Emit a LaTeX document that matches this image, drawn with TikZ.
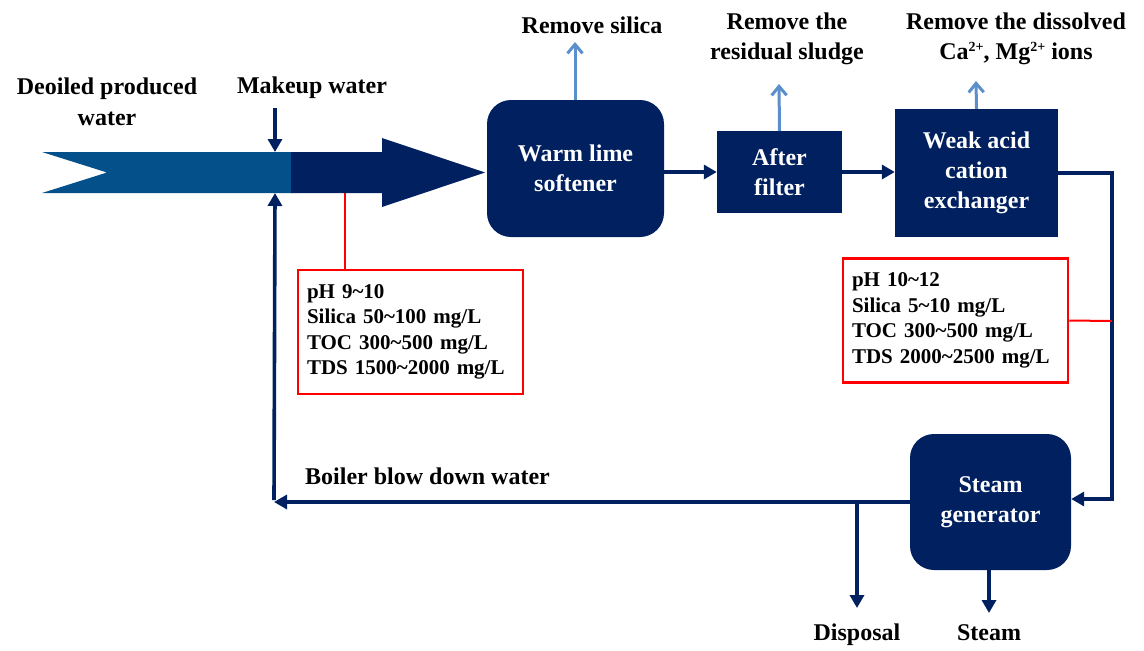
\documentclass[tikz,border=0pt]{standalone}
\usepackage{fontspec}
\setmainfont{Liberation Serif}
\usetikzlibrary{arrows.meta}
\definecolor{navy}{HTML}{002060}
\definecolor{shaftblue}{HTML}{03508B}
\definecolor{lblue}{HTML}{5B8FCB}
\newcommand{\sups}[1]{\raisebox{0.75ex}{\fontsize{14}{14}\selectfont #1}}
\begin{document}
\begin{tikzpicture}[x=1pt,y=-1pt,
  unit/.style={fill=navy, text=white, font=\fontsize{24}{30}\selectfont\bfseries, align=center, inner sep=0pt},
  lab/.style={font=\fontsize{24}{30.5}\selectfont\bfseries, align=center, inner sep=0pt},
  databox/.style={draw=red, line width=2.5pt, font=\fontsize{21}{25.5}\selectfont\bfseries, align=left, inner xsep=9pt, inner ysep=0pt, text width=207pt, minimum height=124pt},
  flow/.style={navy, line width=3.6pt, -{Triangle[length=13pt,width=14pt]}},
  navyline/.style={navy, line width=3.6pt},
  removal/.style={lblue, line width=3pt, -{Straight Barb[length=9pt,width=15pt]}},
  redline/.style={red, line width=2pt}]
\useasboundingbox (0,0) rectangle (1144,651);

% big input arrow
\fill[shaftblue] (42,152) -- (292,152) -- (292,193) -- (42,193) -- (107,172.5) -- cycle;
\fill[navy] (291,152) -- (382,152) -- (382,138) -- (485,172.5) -- (382,207) -- (382,193) -- (291,193) -- cycle;
\coordinate (shafttop) at (275,152);
\coordinate (shaftbot) at (275,193);
\coordinate (probe1) at (345,193);

% labels
\node[lab] (deoil) at (107,102) {Deoiled produced\\water};
\node[lab] (makeup) at (312,88) {Makeup water};
\coordinate (mk) at (275,108);
\node[lab, anchor=west] (boiler) at (305,476) {Boiler blow down water};
\node[lab] (rsil) at (592,25) {Remove silica};
\node[lab] (rsl) at (787,39) {Remove the\\residual sludge};
\node[lab] (rion) at (1016,39) {Remove the dissolved\\Ca\sups{2+}, Mg\sups{2+} ions};
\node[lab] (disp) at (857,635) {Disposal};
\node[lab] (steam) at (989,633) {Steam};

% units
\node[unit, minimum width=177pt, minimum height=137pt, rounded corners=24pt] (soft) at (575.5,168.5) {Warm lime\\softener};
\node[unit, minimum width=125pt, minimum height=82pt] (filt) at (779.5,172) {After\\filter};
\node[unit, minimum width=163pt, minimum height=128pt] (exch) at (976.5,173) {Weak acid\\cation\\exchanger};
\node[unit, minimum width=161pt, minimum height=136pt, rounded corners=24pt] (sg) at (990.5,502) {Steam\\generator};

% data boxes
\node[databox] (d1) at (410.5,332) {pH 9\textasciitilde10\\Silica 50\textasciitilde100 mg/L\\TOC 300\textasciitilde500 mg/L\\TDS 1500\textasciitilde2000 mg/L};
\node[databox] (d2) at (955.5,320.5) {pH 10\textasciitilde12\\Silica 5\textasciitilde10 mg/L\\TOC 300\textasciitilde500 mg/L\\TDS 2000\textasciitilde2500 mg/L};

% removal arrows
\coordinate (o1) at (575,42);
\coordinate (o2) at (779,84);
\coordinate (o3) at (976,81);
\draw[removal] (soft.north -| o1) -- (o1);
\draw[removal] (filt.north) -- (o2);
\draw[removal] (exch.north) -- (o3);

% main flow
\draw[flow] (mk) -- (shafttop);
\draw[flow] (soft.east |- filt.west) -- (filt.west);
\draw[flow] (filt.east) -- (exch.west |- filt.east);
\coordinate (r1) at (1112,173);
\coordinate (r2) at (1112,499);
\draw[flow, line join=miter] (exch.east) -- (r1) -- (r2) -- (r2 -| sg.east);

% blow down
\coordinate (corner) at (274,502);
\coordinate (dj) at (857,502);
\coordinate (dend) at (857,608);
\coordinate (send) at (989,613);
\draw[flow] (sg.west) -- (corner);
\draw[flow] ([yshift=1.8pt]corner) -- (shaftbot);
\draw[flow] (dj) -- (dend);
\draw[flow] (sg.south -| send) -- (send);

% red probes
\draw[redline] (probe1) -- (d1.north -| probe1);
\coordinate (probe2) at (1112,321);
\draw[redline] (d2.east) -- (probe2);
\end{tikzpicture}
\end{document}
